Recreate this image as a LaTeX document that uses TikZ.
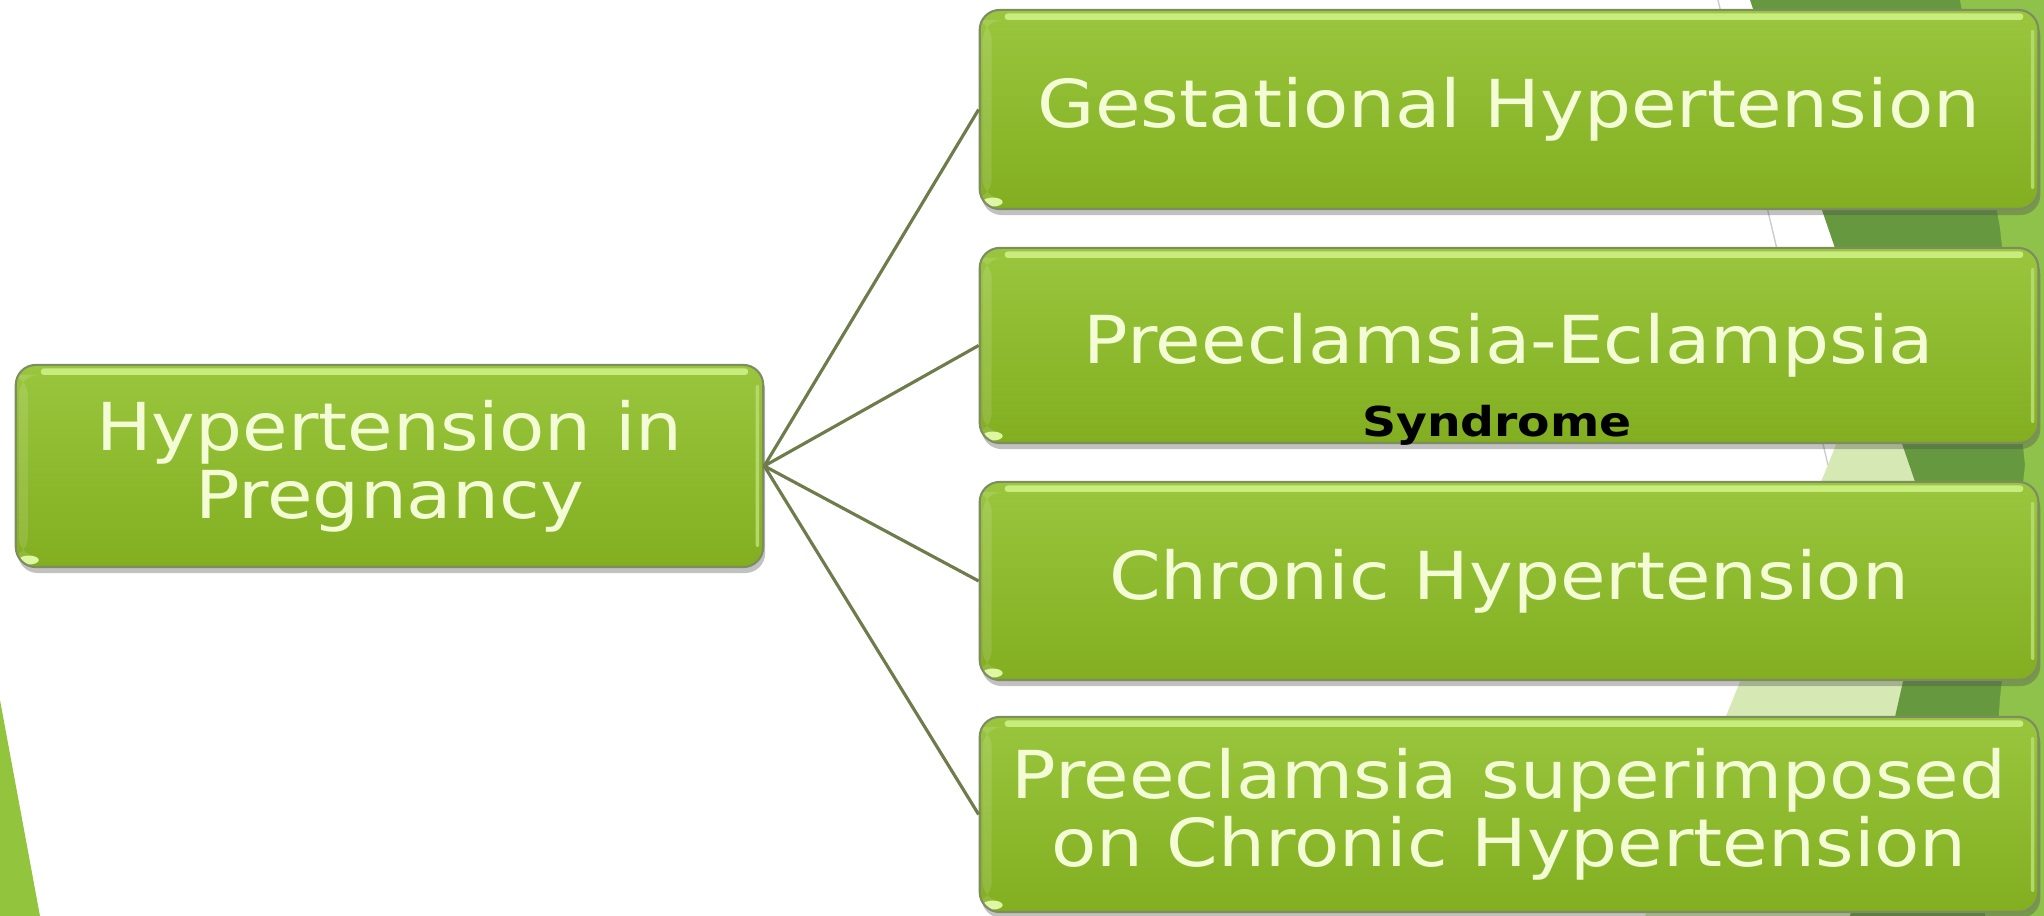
\documentclass[tikz,border=0pt]{standalone}
\usepackage{fontspec}
\usetikzlibrary{shadows}
\newfontfamily\boxfont[FakeStretch=1.12]{DejaVu Sans}
\newfontfamily\synfont[FakeStretch=1.15]{DejaVu Sans}
\definecolor{gtop}{HTML}{9AC63E}
\definecolor{gbot}{HTML}{82AE20}
\definecolor{gedge}{HTML}{7E8C62}
\definecolor{ghi}{HTML}{C9EC7E}
\definecolor{gside}{HTML}{B4D96A}
\definecolor{gblob}{HTML}{DDF7A2}
\definecolor{gtext}{HTML}{F3FCD4}
\definecolor{conncol}{HTML}{6E7B4A}
\definecolor{bgdark}{HTML}{66993F}
\definecolor{bglight}{HTML}{8EC24A}
\definecolor{bgpale}{HTML}{D6E9B4}
\definecolor{bgwedge}{HTML}{92C43E}
\tikzset{
  gbox/.style={draw=gedge, line width=0.6pt, rounded corners=2mm,
    top color=gtop, bottom color=gbot, text=gtext, align=center, inner sep=0pt,
    font=\boxfont\fontsize{18.8pt}{19.4pt}\selectfont,
    drop shadow={shadow xshift=0.2mm, shadow yshift=-0.6mm, opacity=0.35, fill=black!70},
    path picture={
      \fill[ghi, rounded corners=0.3mm]
        ([xshift=2.5mm,yshift=-0.35mm]path picture bounding box.north west) rectangle
        ([xshift=-1.5mm,yshift=-1.0mm]path picture bounding box.north east);
      \fill[gside, rounded corners=0.2mm]
        ([xshift=-0.75mm,yshift=-2mm]path picture bounding box.north east) rectangle
        ([xshift=-0.4mm,yshift=2mm]path picture bounding box.south east);
      \fill[white, opacity=0.12]
        ([xshift=0.3mm,yshift=-1mm]path picture bounding box.north west) rectangle
        ([xshift=1.2mm,yshift=1mm]path picture bounding box.south west);
      \fill[gblob] ([xshift=1.3mm,yshift=0.7mm]path picture bounding box.south west)
        ellipse [x radius=1.0mm, y radius=0.45mm];
    }},
  conn/.style={draw=conncol, line width=0.9pt},
  syntext/.style={font=\synfont\bfseries\fontsize{11.7pt}{12pt}\selectfont, text=black, inner sep=0pt}
}
\begin{document}
\begin{tikzpicture}[x=0.01cm, y=-0.01cm]
\useasboundingbox (0,0) rectangle (2044,916);
% background facets
\fill[bgpale] (1915,250) -- (2044,250) -- (2044,916) -- (1645,916) -- cycle;
\fill[bgdark] (1750,0) -- (2044,0) -- (2044,916) -- (1850,916) -- (1935,540) -- cycle;
\fill[bglight] (1960,0) -- (2044,0) -- (2044,916) -- (1985,916) -- (2000,698) -- (2025,465) -- (2000,228) -- cycle;
\draw[gray!40, line width=0.4pt] (1718,0) -- (1828,465);
\fill[bgwedge] (0,700) -- (40,916) -- (0,916) -- cycle;
% boxes
\node[gbox, minimum width=74.7mm, minimum height=20.2mm] (root) at (389.5,466) {Hypertension in\\Pregnancy};
\node[gbox, minimum width=105.8mm, minimum height=19.9mm] (b1) at (1509,109.5) {Gestational Hypertension};
\node[gbox, minimum width=105.8mm, minimum height=19.5mm] (b2) at (1509,345.5) {Preeclamsia-Eclampsia};
\node[gbox, minimum width=105.8mm, minimum height=19.8mm] (b3) at (1509,581) {Chronic Hypertension};
\node[gbox, minimum width=105.8mm, minimum height=19.5mm] (b4) at (1509,814.5) {Preeclamsia superimposed\\on Chronic Hypertension};
\node[syntext] (syn) at (1497,425) {Syndrome};
% connectors
\draw[conn] (root.east) -- (b1.west);
\draw[conn] (root.east) -- (b2.west);
\draw[conn] (root.east) -- (b3.west);
\draw[conn] (root.east) -- (b4.west);
\end{tikzpicture}
\end{document}
